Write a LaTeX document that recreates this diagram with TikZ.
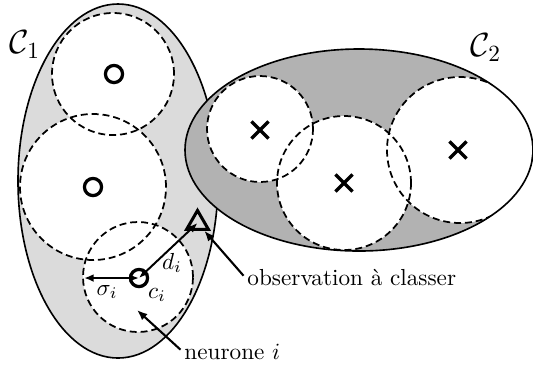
\documentclass[tikz,border=0pt]{standalone}
\usetikzlibrary{arrows.meta,shapes.geometric,shapes.misc}
\begin{document}
\begin{tikzpicture}[x=0.431pt,y=0.431pt,
  outline/.style={line width=0.7pt},
  dashcirc/.style={line width=0.75pt,dash pattern=on 3pt off 1.7pt},
  omark/.style={circle,draw,line width=1.4pt,minimum size=7.4pt,inner sep=0pt},
  xmark/.style={cross out,draw,line width=1.4pt,minimum size=6pt,inner sep=0pt},
  tmark/.style={regular polygon,regular polygon sides=3,draw,line width=1.3pt,minimum size=10.8pt,inner sep=0pt},
  arr/.style={line width=0.9pt,-{Latex[length=4.5pt,width=3.6pt]}},
  darr/.style={line width=0.85pt,{Latex[length=4.2pt,width=3.4pt]}-{Latex[length=4.2pt,width=3.4pt]}},
  lab/.style={inner sep=0pt}
]
\useasboundingbox (0,0) rectangle (533,-367);
\colorlet{gone}{black!14}
\colorlet{gtwo}{black!30}
% ---- class C1 ----
\fill[gone] (118,-181) ellipse [x radius=100, y radius=177];
\begin{scope}
  \clip (118,-181) ellipse [x radius=100, y radius=177];
  \fill[white] (113,-74) circle (61);
  \fill[white] (93,-187) circle (73);
  \fill[white] (138,-277) circle (55);
  \draw[dashcirc] (113,-74) circle (61);
  \draw[dashcirc] (93,-187) circle (73);
  \draw[dashcirc] (138,-277) circle (55);
\end{scope}
\draw[outline] (118,-181) ellipse [x radius=100, y radius=177];
% ---- class C2 ----
\fill[gtwo] (359,-150) ellipse [x radius=174, y radius=101];
\begin{scope}
  \clip (359,-150) ellipse [x radius=174, y radius=101];
  \fill[white] (260,-129) circle (53);
  \fill[white] (344,-183) circle (67);
  \fill[white] (460,-150) circle (73);
  \draw[dashcirc] (260,-129) circle (53);
  \draw[dashcirc] (344,-183) circle (67);
  \draw[dashcirc] (460,-150) circle (73);
\end{scope}
\draw[outline] (359,-150) ellipse [x radius=174, y radius=101];
% ---- markers ----
\node[omark] (o1) at (114,-74) {};
\node[omark] (o2) at (93,-187) {};
\node[omark] (ci) at (139,-278) {};
\node[xmark] (x1) at (260,-130) {};
\node[xmark] (x2) at (344,-183) {};
\node[xmark] (x3) at (458,-150) {};
\node[tmark] (tri) at (197.5,-223) {};
% ---- labels ----
\node[lab] (C1) at (25,-45) {\Large $\mathcal{C}_1$};
\node[lab] (C2) at (486,-48) {\Large $\mathcal{C}_2$};
\node[lab] (di) at (172,-263) {$d_i$};
\node[lab] (si) at (107,-292) {$\sigma_i$};
\node[lab] (cil) at (157,-295) {$c_i$};
\node[lab,anchor=west] (obs) at (247,-278) {observation à classer};
\node[lab,anchor=west] (neu) at (184,-352) {neurone $i$};
% ---- connectors ----
\coordinate (sl) at (84,-278);
\coordinate (nh) at (137,-310);
\draw[darr] (ci.center) -- (tri.center);
\draw[darr] (ci.center) -- (sl);
\draw[arr] ([xshift=-1.5pt,yshift=1pt]obs.west) -- (tri);
\draw[arr] ([xshift=-1.5pt,yshift=1pt]neu.west) -- (nh);
\end{tikzpicture}
\end{document}
